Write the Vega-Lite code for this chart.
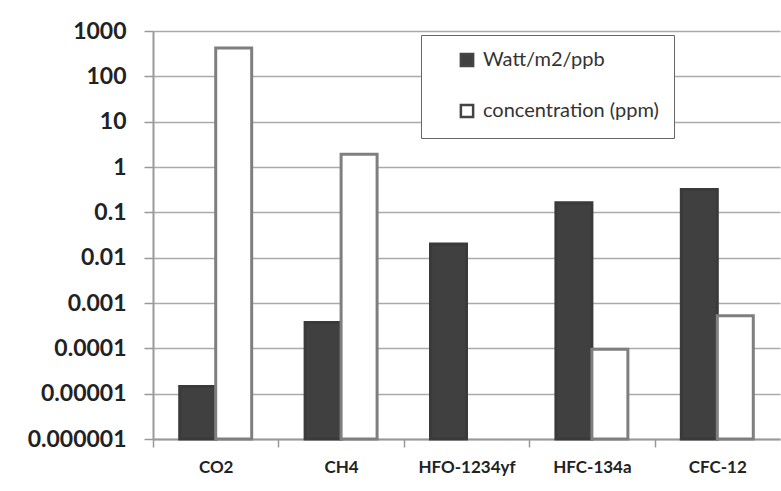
{
  "$schema": "https://vega.github.io/schema/vega-lite/v6.json",
  "width": 627,
  "height": 408,
  "autosize": "none",
  "padding": {"left": 153, "top": 31, "right": 1, "bottom": 52},
  "background": "white",
  "config": {"view": {"stroke": null}, "font": "Lato"},
  "data": {
    "values": [
      {"gas": "CO2", "series": "Watt/m2/ppb", "value": 0.0000143},
      {"gas": "CO2", "series": "concentration (ppm)", "value": 420},
      {"gas": "CH4", "series": "Watt/m2/ppb", "value": 0.00037},
      {"gas": "CH4", "series": "concentration (ppm)", "value": 1.9},
      {"gas": "HFO-1234yf", "series": "Watt/m2/ppb", "value": 0.02},
      {"gas": "HFC-134a", "series": "Watt/m2/ppb", "value": 0.163},
      {"gas": "HFC-134a", "series": "concentration (ppm)", "value": 0.000095},
      {"gas": "CFC-12", "series": "Watt/m2/ppb", "value": 0.32},
      {"gas": "CFC-12", "series": "concentration (ppm)", "value": 0.00052}
    ]
  },
  "mark": {"type": "bar", "strokeWidth": 3},
  "encoding": {
    "x": {
      "field": "gas",
      "type": "nominal",
      "sort": ["CO2", "CH4", "HFO-1234yf", "HFC-134a", "CFC-12"],
      "scale": {"paddingInner": 0.426, "paddingOuter": 0.213},
      "axis": {
        "title": null,
        "labelAngle": 0,
        "labelFont": "Lato",
        "labelFontSize": 17,
        "labelFontWeight": "bold",
        "labelColor": "#222222",
        "labelPadding": 12,
        "labelOffset": 62.7,
        "ticks": true,
        "tickSize": 8,
        "tickColor": "#999999",
        "tickWidth": 1.5,
        "tickOffset": -62.7,
        "domainColor": "#999999",
        "domainWidth": 2,
        "grid": false
      }
    },
    "xOffset": {"field": "series", "type": "nominal", "sort": ["Watt/m2/ppb", "concentration (ppm)"]},
    "y": {
      "field": "value",
      "type": "quantitative",
      "scale": {"type": "log", "domain": [0.000001, 1000], "nice": false},
      "axis": {
        "title": null,
        "values": [0.000001, 0.00001, 0.0001, 0.001, 0.01, 0.1, 1, 10, 100, 1000],
        "format": "~f",
        "labelFont": "Lato",
        "labelFontSize": 23,
        "labelFontWeight": "bold",
        "labelColor": "#222222",
        "labelPadding": 18,
        "tickSize": 9,
        "tickColor": "#999999",
        "tickWidth": 1.5,
        "domainColor": "#999999",
        "domainWidth": 2,
        "grid": true,
        "gridColor": "#aaaaaa",
        "gridWidth": 1.5
      }
    },
    "y2": {"datum": 0.000001},
    "fill": {
      "field": "series",
      "type": "nominal",
      "sort": ["Watt/m2/ppb", "concentration (ppm)"],
      "scale": {"range": ["#404040", "#ffffff"]},
      "legend": {
        "title": null,
        "orient": "none",
        "legendX": 268,
        "legendY": 4,
        "padding": 15,
        "symbolOffset": 21,
        "symbolType": "square",
        "symbolSize": 150,
        "symbolStrokeWidth": 2.5,
        "symbolStrokeColor": "#444444",
        "labelFont": "Lato",
        "labelFontSize": 20,
        "labelColor": "#333333",
        "labelOffset": 6,
        "labelLimit": 500,
        "labelExpr": "datum.label + '\u00a0\u00a0\u00a0\u00a0\u00a0\u00a0'",
        "rowPadding": 27,
        "strokeColor": "#666666",
        "fillColor": "#ffffff"
      }
    },
    "stroke": {
      "field": "series",
      "type": "nominal",
      "sort": ["Watt/m2/ppb", "concentration (ppm)"],
      "scale": {"range": ["#3a3a3a", "#7f7f7f"]},
      "legend": null
    }
  }
}
